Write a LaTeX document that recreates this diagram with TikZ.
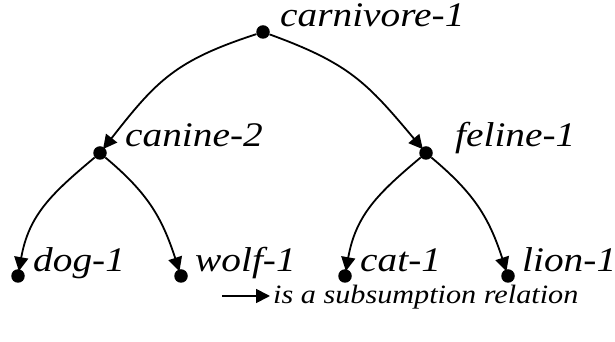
\documentclass[tikz,border=0pt]{standalone}
\usepackage{fontspec}
\setmainfont{Liberation Serif}
\newfontfamily\tfont{Liberation Serif Italic}[FakeStretch=1.14]
\usetikzlibrary{arrows.meta}
\begin{document}
\begin{tikzpicture}[x=1pt,y=1pt,
  dot/.style={circle,fill=black,inner sep=0pt,minimum size=13.5pt},
  lbl/.style={anchor=base west,inner sep=0pt,font=\tfont\fontsize{34.5}{36}\selectfont},
  rel/.style={line width=1.8pt,-{Triangle[length=14pt,width=14pt]},shorten >=-2pt},
  legend/.style={anchor=base west,inner sep=0pt,font=\tfont\fontsize{26.5}{28}\selectfont}]
\useasboundingbox (0,0) rectangle (615,342);
% dots
\node[dot] (carn) at (263,310) {};
\node[dot] (can) at (100,189) {};
\node[dot] (fel) at (426,189) {};
\node[dot] (dog) at (18,66) {};
\node[dot] (wolf) at (181,66) {};
\node[dot] (cat) at (345,66) {};
\node[dot] (lion) at (508,66) {};
% labels
\node[lbl] (tcarn) at (280,315) {carnivore-1};
\node[lbl] (tcan) at (125,195) {canine-2};
\node[lbl] (tfel) at (455,195) {feline-1};
\node[lbl] (tdog) at (33,70) {dog-1};
\node[lbl] (twolf) at (195,70) {wolf-1};
\node[lbl] (tcat) at (360,70) {cat-1};
\node[lbl] (tlion) at (522,70) {lion-1};
% edges
\draw[rel] (carn) to[out=198,in=52,looseness=1.15] (can);
\draw[rel] (carn) to[out=-20,in=130,looseness=1.15] (fel);
\draw[rel] (can) to[out=220,in=80,looseness=1.05] (dog);
\draw[rel] (can) to[out=-40,in=108,looseness=1.05] (wolf);
\draw[rel] (fel) to[out=220,in=80,looseness=1.05] (cat);
\draw[rel] (fel) to[out=-40,in=108,looseness=1.05] (lion);
% legend
\coordinate (la) at (222,46);
\coordinate (lb) at (270,46);
\draw[line width=1.8pt,-{Triangle[length=14pt,width=14pt]}] (la) -- (lb);
\node[legend] (tleg) at (273,38) {is a subsumption relation};
\end{tikzpicture}
\end{document}
